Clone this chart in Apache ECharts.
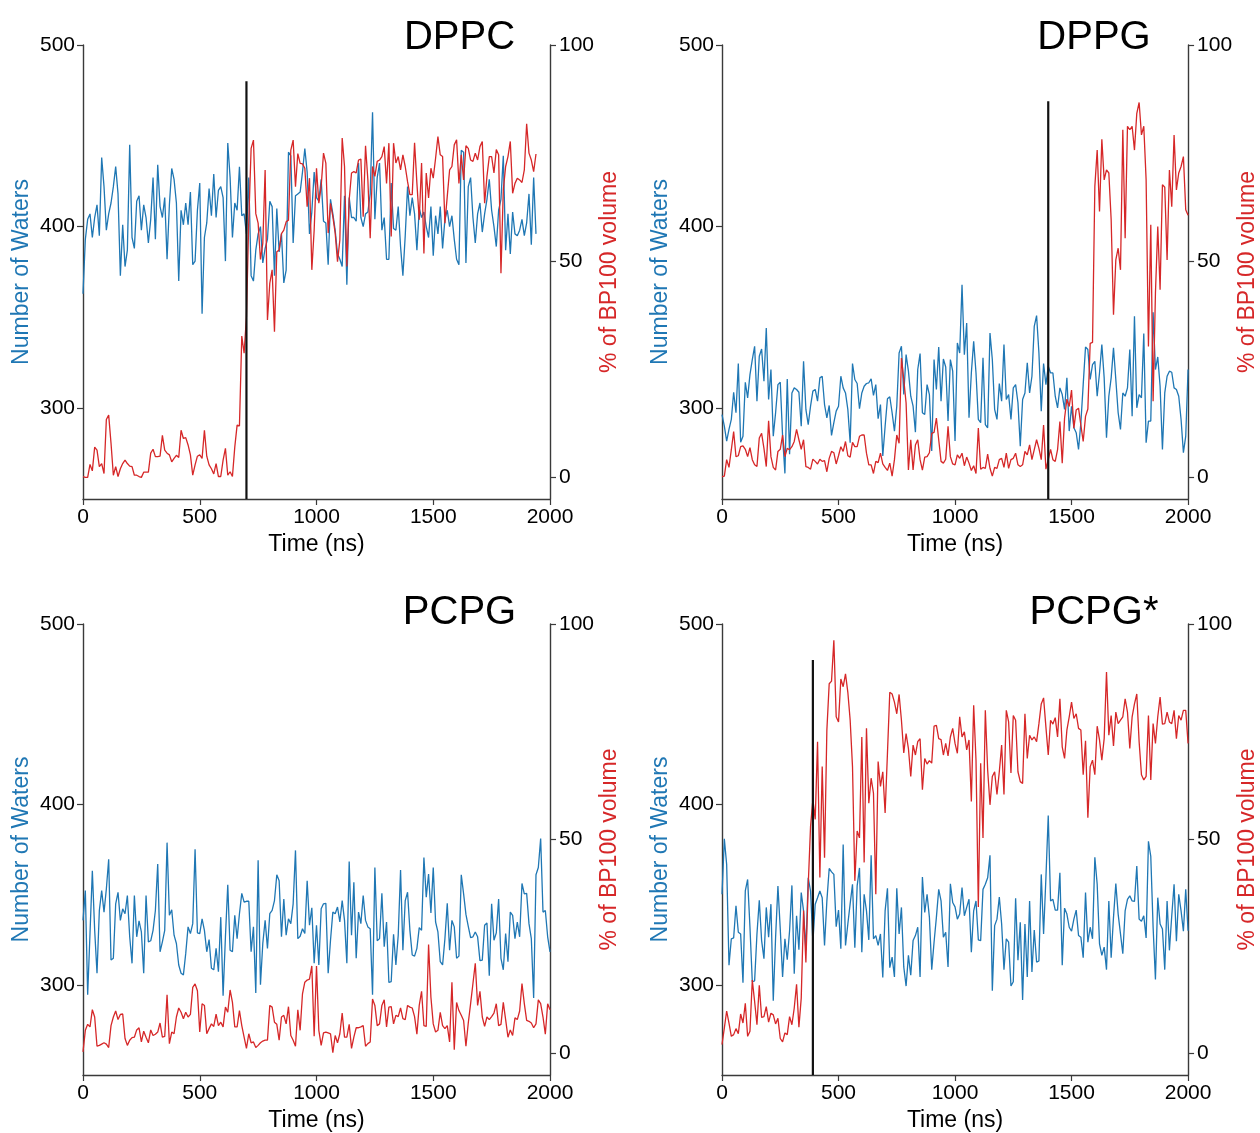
<!DOCTYPE html>
<html>
<head>
<meta charset="utf-8">
<title>Water count and BP100 volume</title>
<script src="https://cdn.jsdelivr.net/npm/echarts@6/dist/echarts.min.js"></script>
<style>
  html, body { margin: 0; padding: 0; background: #ffffff; }
  #chart { width: 1260px; height: 1133px; }
</style>
</head>
<body>
<div id="chart"></div>
<script>
// Sampling interval of every trace (ns)
const timeStepNs = 10;

const panelTitles = ['DPPC', 'DPPG', 'PCPG', 'PCPG*'];

// Number of water molecules (left axis)
const dppcWaters = [
  363,393,404,407,394,405,412,395,438,422,
  398,407,413,422,433,418,373,401,378,387,
  445,394,388,414,417,398,412,405,391,404,
  427,393,434,411,405,416,382,412,432,426,
  413,370,409,401,413,401,419,379,381,409,
  424,352,394,402,421,406,429,405,420,422,
  416,381,446,427,394,413,409,433,406,407,
  396,427,373,370,387,396,400,380,388,393,
  414,411,373,410,386,396,369,376,441,439,
  391,417,418,419,430,443,430,396,408,430,
  416,414,
  426,403,402,379,415,407,398,385,382,378,
  417,368,416,405,405,403,435,405,400,407,
  408,418,463,404,427,435,398,405,382,382,
  424,399,398,411,389,373,395,422,406,416,
  407,387,410,405,408,400,394,411,384,406,
  396,411,388,404,409,400,406,393,382,379,
  442,441,380,422,427,405,391,407,413,397,
  407,415,426,409,400,389,409,415,439,387,
  407,385,408,396,395,398,404,395,402,418,
  390,427,396
];
const dppgWaters = [
  296.5,290.1,281.9,288.3,293.8,308.8,297.5,324.6,281.3,284.6,
  314.3,305.7,318.5,326.8,334.1,303.9,328.6,332.6,314.9,344.2,
  304.8,321.3,284.6,297.5,313,314.3,284.6,264.1,316.1,274.6,
  308.4,311.2,310.3,308.8,290.1,325.8,299.3,291,301.1,309.4,
  310.3,303.9,316.7,317.6,302,294.7,301.5,285,292,298.4,
  301.1,317.6,311.2,308.4,299.3,281,324.6,315.8,313.6,299.7,
  308.4,312.1,313.6,314,316.1,307,313,294.2,302,273.7,
  290.1,305.2,306.3,297.5,287.4,301.1,330.4,334.1,307.5,329.5,
  320.4,306.6,301.1,286.8,321.3,330.1,297.5,296.5,313,307.5,
  276.4,326.8,310.3,333.7,303.9,327.1,322.7,292.9,326.8,320.4,
  281.9,335.9,
  330.4,368,329.5,346.9,294.7,319.4,336.8,319.4,293.8,292,
  327.7,291,289.2,341.4,326.8,299.3,293.8,313.6,303.9,335,
  304.8,307.5,293.8,311.2,313,303,279.1,304.8,308.4,325,
  308.4,317.6,345.1,351,330.4,298.4,324.6,313,323.1,319.4,
  319.4,306.6,300.2,311.2,307.5,299.3,316.7,287.4,301.1,289.2,
  286.5,277.3,292,313,333.7,332.3,315.8,324,325.8,306.6,
  319.4,335,316.7,283.7,306.6,316.7,333.2,315.8,297.5,288.3,
  308.4,306.6,311.2,332.3,295.6,350.6,300.2,307.5,305.7,341.1,
  281,292.9,292.9,352.8,321.3,328.2,312.1,277.3,308.4,317.6,
  320.4,319.8,311.2,310.3,306.6,293.8,275.5,284.6,321.3
];
const pcpgWaters = [
  335.7,352.2,294.5,328.4,363.2,330.2,306.4,341.2,352.2,340.3,
  353.1,369.6,313.7,314.7,344.9,351.3,335.7,342.1,339.4,349.5,
  326.6,311.9,349.5,326.6,335.4,329.3,306.4,349.5,323.8,324.4,
  330.2,341.2,366.9,318.3,323.8,330.2,378.8,338.5,341.6,327.5,
  322.9,311,306.4,305.5,317.4,332.1,328.4,333.9,375.1,328.8,
  328.4,336.6,330.2,318.3,325.1,309.2,308.3,320.2,307.3,337.5,
  294,326.6,355.5,319.2,318.3,338.5,325.6,339.4,350.7,345.8,
  346.3,346.3,318.3,332.1,295.4,369.1,300,322.9,335.7,320.2,
  339.4,341.2,346.7,361,357.7,326.6,347.6,327.5,336.6,333.9,
  344.9,374.5,325.6,326.9,331.1,328.4,357.7,333,342.7,311.9,
  333,311,
  342.1,344.9,345.2,306.4,324.7,340.3,339.4,343.1,334.8,346.7,
  335.7,311.9,368.3,327.5,356.8,314.7,340.3,333.9,349.5,335.7,
  332.1,331.1,294.5,365,324.4,325.6,350.7,321.1,334.8,301.3,
  301.8,328,311,327.5,363.6,319.2,346.7,351.3,330.2,316.5,
  315.9,320.2,331.7,330.2,370.5,348.6,361.4,339.8,365,334.8,
  329.3,312.8,311,325.6,345.2,319.2,335.7,332.1,314.7,315.9,
  361,350.4,339,332.4,326.2,326.6,329.3,326.6,313.4,313.7,
  333,334.3,305,344.9,324.7,328.8,347.6,314.7,308.3,328.4,
  312.8,340.3,338.5,325.6,334.8,326.6,356.2,350.4,350.7,333.9,
  325.6,292.7,361,365,381.1,340.3,341.2,326.6,318.3
];
const pcpgStarWaters = [
  350.2,380.9,366.7,310.8,325.5,326,343.8,329.1,328.2,301.1,
  352,358.4,331.9,301.7,302.2,328.2,346.9,324.5,314.5,342.9,
  326.4,344.7,291.2,326.4,354.8,330.9,304.4,325.5,313.9,330,
  355.1,306.2,338.3,319.4,351.1,341,319.1,359.3,352,323.6,
  344.7,348.3,352,348.3,321.8,346.5,364.5,362.6,361.2,332.2,
  341.4,320,377.7,321.8,333.7,345,355.7,320.5,354.8,364.8,
  318.1,350.2,341,324.9,371.8,325.5,327.3,321.8,328.2,304,
  341,353.5,309.5,315.4,304.4,353.5,328.2,342.9,309.9,299.3,
  316.3,305.3,324.5,327.3,331.9,304.4,359.7,340.1,350.2,337.4,
  308.4,323.6,337.4,352.9,346.5,326.4,329.1,309.9,356,345.6,
  343.2,336.4,
  339.2,353.9,338.3,342.9,347.4,318.1,341,346.5,324.9,324.5,
  352.9,355.7,359.3,371.8,296.7,332.8,336.4,348.7,333.7,308.4,
  325.5,323.6,299.3,301.7,348,313.6,334.6,291.6,333.7,304.4,
  346.5,307.1,330.4,312.6,313.2,361.2,328.2,359.3,393.8,346.5,
  347.4,341.4,341.4,362.1,310.8,342.5,339.2,331.9,329.7,336.4,
  341.4,327.3,326.4,315,351.1,323.6,331.9,325.5,370.7,355.7,
  322.7,316.3,320.9,308.4,346.5,315,337.4,356.1,339.2,328.2,
  317.2,341,347.4,349.3,346.5,346.2,365.8,336.4,335.2,338.3,
  326,379.5,371.2,331.9,302.9,348.3,333.7,330.9,308.4,346.5,
  319.1,338.3,355.7,324.2,350.2,341,329.7,352.9,330
];

// Share of the BP100 volume (%), right axis
const dppcVolume = [
  0.2,0,0,3,1.5,7,6.3,2.5,3.2,0.9,
  13.4,14.4,7.9,0.5,2.5,0.2,2,3.2,4,3.2,
  2.6,2.5,0.5,0.5,0.2,0,1.2,1.2,1.2,5.6,
  6.5,4.8,4.8,4.9,9.7,6.3,5.6,5.2,3.6,4.4,
  5.1,4.6,10.9,9,9.2,7.5,5.2,0.5,2.9,4.9,
  5.2,4.4,10.9,4.9,2.9,2,0.8,3.2,0.2,0.2,
  4,6.7,0.5,1.3,0.2,7,12.1,11.9,32.7,28.7,
  37.2,59.5,76.1,78,61,58.8,50.4,54.1,71.1,36.4,
  44.9,48,33.7,52.2,52.6,56.4,57.2,59.1,59.5,75.7,
  78,67.2,74.9,72.6,72.5,71.5,62.6,69.2,48,57.2,
  71.5,63.4,
  67.3,75,72.7,56.5,63.4,60.3,56.5,49.9,54.9,78.5,
  71.9,48.8,64.2,70.4,70.7,70.4,73.4,73.6,60.3,76.7,
  68.8,55.3,71.9,69.6,73.1,73.4,74.2,76.5,68,77.3,
  55.7,77.3,72.7,74.2,71.1,74.6,71.9,68.4,65.4,65.4,
  77.4,68,59.6,72.7,51.8,70.4,64.6,71.5,69.2,73.8,
  78.8,74.6,74.2,58.8,65,71.1,71.9,76.9,78.1,68,
  74.6,68.8,76.7,76.1,73.4,73.1,75,73.4,76.5,77.7,
  63.4,69.6,74.2,74.2,70.4,75.8,74.6,47.2,66.5,71.9,
  74.2,77.7,65.7,68,69.2,68.8,68.2,71.1,81.8,75,
  73.4,70.7,74.8
];
const dppgVolume = [
  0.2,0.3,4.1,2.3,6.4,10.6,4.8,5,7.1,7.3,
  6.5,4.8,6.9,4.1,2.9,2.5,9.1,10.2,6.7,2.5,
  13.1,4.8,2.3,1.7,6,6.5,9.8,4.8,6.7,6.4,
  7.1,8.3,11.1,8.7,6.5,8.7,2.5,2.3,1.9,4.2,
  3.7,3.1,4.2,3.7,3.9,1.3,4.4,6,5.7,3.1,
  5,7.1,6,8.3,5,4.7,8.1,7.1,7.1,9.5,
  9.8,9.8,5.6,2.9,2.9,0.9,3.7,3.4,5.6,3.1,
  2.3,1.6,3.3,0.3,4.1,9.8,7.9,27.6,22.6,17.2,
  1.7,8.7,1.7,7.5,8.7,4.1,1.7,4.7,4.8,5.7,
  10.2,10.4,13.7,8.7,3.7,3.3,4.2,11.8,4.8,3.1,
  2.9,5.2,
  4.4,5.6,2.7,4.7,3.3,1.6,2.7,0.9,11.4,1.9,
  2.3,2.1,5.4,2.1,0.3,2.3,2.1,4.1,4.4,2.3,
  5.6,2.1,4.1,4.4,5.6,2.9,2.5,2.9,6,5.2,
  7.5,4.1,6.4,8.7,6.7,4.1,12.1,1.9,4.1,6.5,
  4.1,3.7,6.4,12.9,3.3,13.7,18.1,16.4,20.2,11.4,
  15.6,16,12.1,8.3,14.1,15.8,31,31.2,67.3,75.7,
  61.5,78.2,68.8,71.1,70.4,59.6,37.6,50.3,53,48,
  80.4,55.3,81.2,80.4,81.2,75.7,84.2,86.7,79.2,81.2,
  68.8,30.3,58.4,17.6,42.6,58,43.4,67.7,67.1,50.3,
  71.1,62.6,79.2,66.5,70.4,71.9,74.2,61.9,60.6
];
const pcpgVolume = [
  0.4,5.4,6.8,6.2,10.2,8.5,1.7,1.9,2.2,2.5,
  2.2,1.4,6.5,8.5,9.9,7.9,9.1,9.2,3.5,1.9,
  3.1,3.7,3.8,5.5,6,2.7,5.2,3.8,2.5,5.5,
  4.2,4.5,5,7.1,3.8,4,13.7,2.3,5,4.6,
  8.5,10.6,9.6,8.1,9.6,8.5,9.1,15.4,16.2,14.6,
  5,11.6,11.2,4.6,5.8,6.9,6.3,9.2,6.5,7.3,
  6.2,10.8,9.6,14.8,11.9,6.2,6.2,10,6.5,3.8,
  1.2,4.6,2.5,2.7,1.4,1.9,2.5,2.9,3.1,3.1,
  11.2,10.8,7.3,6.8,3.1,8.5,8.9,6.9,10.9,4.2,
  3.1,1.7,10.2,5.4,13.9,16.6,17.1,17.3,20.4,4,
  20.4,5.4,
  1.9,4.8,5,4.8,4.6,0.2,4.2,2.5,4.6,9.4,
  3.8,3.8,6.8,1.2,3.8,6,6,6.2,6.5,1.7,
  2.3,2.7,12.7,11.2,6.5,6.9,11.2,12.5,6.2,10.8,
  10.9,6.9,8.9,8.6,10.6,8.1,7.9,11.2,10.8,10.6,
  8.6,4.5,11.2,14.5,6.5,6.3,25.4,13.1,6.9,5,
  5.4,9.6,6.5,5.8,6.5,2.7,16.6,0.9,11.9,10,
  8.9,7.7,1.7,7.1,11.6,16.3,21,11.2,14.5,8.5,
  6.3,8.5,7.9,8.6,9.4,11.6,6.5,6.8,11.9,7.9,
  3.8,5.5,4.2,8.3,7.9,9.9,16.3,11.6,7.7,7.5,
  7.1,6,6.9,12.5,11.6,8.5,4.5,11.6,10.2
];
const pcpgStarVolume = [
  2.1,5.9,9.9,7.1,4,4.4,5.8,4.6,9.2,7.1,
  11.7,4,5.2,17.1,12.1,6.7,15.9,8.4,8.6,10.9,
  7.3,9.4,9,6.9,8.2,3.5,2.7,4.8,4.4,8.6,
  6.7,10.6,16.1,6.1,12.9,33.3,21.2,39.1,52.9,59.1,
  54.5,72.6,41,66.8,45.6,75.3,86.1,86.7,96.2,78.4,
  77.2,87.2,85.4,88.4,84.1,77.6,66.8,40.2,51.8,50.2,
  73.7,44.5,75.7,58.3,64.1,60.6,37.1,68,62.2,65.6,
  56,69.9,84.1,83.7,81.8,79.1,83.6,77.6,70,74.5,
  71,64.5,71.8,69.5,72.6,73.3,61.4,68.7,67.4,68.2,
  67.6,76.2,76.4,73.3,73.1,69.5,72.2,69.3,73.7,75.7,
  72.2,69.9,
  78.4,73.7,74.9,70.7,73,58.7,81.1,68.3,34.1,67.6,
  50.2,79.9,66,57.9,64.5,65.6,60.3,65.6,71.8,60.3,
  79.9,77.2,65.3,78.7,77.6,65.6,63.3,62.9,79.1,68.7,
  74.1,73,73.7,72.6,76.8,81.4,82.8,76,69.5,77.6,
  76.7,78.2,73.7,82.6,71.4,68.7,75.3,78.4,81.8,78,
  79.1,75.7,75.3,64.9,72.8,54.9,66.8,68.3,64.9,76.2,
  73,68.3,73.3,88.8,74.1,78.7,71.6,79.5,76.8,77.6,
  78.4,82.6,79.5,71,78.4,81.4,83.7,72.6,64.9,63.7,
  64.5,78.7,63.7,76.8,72.2,78.4,83,76.7,76.8,79.5,
  77.2,76.8,79.9,73.3,78.7,77.6,79.9,79.9,72.2
];

// Event marker per panel: time (ns) and height on the water axis
const eventTimes = [700, 1400, null, 390];
const eventTops = [480, 469, null, 480];

// Axis ranges and tick values
const waterRange = [250, 500];
const waterTicks = [300, 400, 500];
const volumeRange = [-5, 100];
const volumeTicks = [0, 50, 100];
const timeRange = [0, 2000];
const timeTickStep = 500;

const watersByPanel = [dppcWaters, dppgWaters, pcpgWaters, pcpgStarWaters];
const volumeByPanel = [dppcVolume, dppgVolume, pcpgVolume, pcpgStarVolume];

const BLUE = '#1f77b4';
const RED = '#d62728';
const FONT = '"Liberation Sans", Arial, Helvetica, sans-serif';
const SPINE = '#3a3a3a';

// Plot boxes (px) and title placement: centre x and baseline offset from box top
const panelBoxes = [
  { left: 83, top: 45, titleDx: 376.5, titleBase: 5 },
  { left: 722, top: 45, titleDx: 372, titleBase: 5 },
  { left: 83, top: 624, titleDx: 376.5, titleBase: 1 },
  { left: 722, top: 624, titleDx: 372, titleBase: 1 }
];
const plotW = 467, plotH = 454;
const TITLE_SIZE = 40;

function withTime(values) {
  return values.map((v, i) => [i * timeStepNs, v]);
}
const plainNumber = (v) => String(v);

const grid = [], xAxis = [], yAxis = [], series = [], graphic = [];

panelBoxes.forEach((box, p) => {
  grid.push({ left: box.left, top: box.top, width: plotW, height: plotH, containLabel: false });

  xAxis.push({
    gridIndex: p, type: 'value', position: 'bottom',
    min: timeRange[0], max: timeRange[1], interval: timeTickStep,
    axisLine: { show: true, onZero: false, lineStyle: { color: SPINE, width: 1.4 } },
    axisTick: { show: true, inside: false, length: 6, lineStyle: { color: SPINE, width: 1.2 } },
    axisLabel: { color: '#000', fontSize: 21, fontFamily: FONT, margin: 8, formatter: plainNumber },
    splitLine: { show: false },
    name: 'Time (ns)', nameLocation: 'middle', nameGap: 34,
    nameTextStyle: { color: '#000', fontSize: 23, fontFamily: FONT }
  });

  yAxis.push({
    gridIndex: p, type: 'value', position: 'left', min: waterRange[0], max: waterRange[1],
    axisLine: { show: true, onZero: false, lineStyle: { color: SPINE, width: 1.4 } },
    axisTick: { show: true, inside: false, length: 6, customValues: waterTicks, lineStyle: { color: SPINE, width: 1.2 } },
    axisLabel: { color: '#000', fontSize: 21, fontFamily: FONT, margin: 8, customValues: waterTicks, formatter: plainNumber },
    splitLine: { show: false },
    name: 'Number of Waters', nameLocation: 'middle', nameGap: 50, nameRotate: 90,
    nameTextStyle: { color: BLUE, fontSize: 23, fontFamily: FONT }
  });

  yAxis.push({
    gridIndex: p, type: 'value', position: 'right', min: volumeRange[0], max: volumeRange[1],
    axisLine: { show: true, onZero: false, lineStyle: { color: SPINE, width: 1.4 } },
    axisTick: { show: true, inside: false, length: 6, customValues: volumeTicks, lineStyle: { color: SPINE, width: 1.2 } },
    axisLabel: { color: '#000', fontSize: 21, fontFamily: FONT, margin: 9, customValues: volumeTicks, formatter: plainNumber },
    splitLine: { show: false },
    name: '% of BP100 volume', nameLocation: 'middle', nameGap: 45, nameRotate: 90,
    nameTextStyle: { color: RED, fontSize: 23, fontFamily: FONT }
  });

  series.push({
    type: 'line', xAxisIndex: p, yAxisIndex: 2 * p, data: withTime(watersByPanel[p]),
    showSymbol: false, smooth: false, lineStyle: { color: BLUE, width: 1.3 }, z: 2
  });
  series.push({
    type: 'line', xAxisIndex: p, yAxisIndex: 2 * p + 1, data: withTime(volumeByPanel[p]),
    showSymbol: false, smooth: false, lineStyle: { color: RED, width: 1.3 }, z: 3
  });
  if (eventTimes[p] !== null) {
    series.push({
      type: 'line', xAxisIndex: p, yAxisIndex: 2 * p,
      data: [[eventTimes[p], waterRange[0]], [eventTimes[p], eventTops[p]]],
      showSymbol: false, lineStyle: { color: '#111', width: 2.2 }, z: 4
    });
  }

  // Baseline placement: bottom-aligned box sits one descent below the baseline
  graphic.push({
    type: 'text', x: box.left + box.titleDx, y: box.top + box.titleBase + Math.round(TITLE_SIZE * 0.21),
    style: { text: panelTitles[p], fill: '#000', fontSize: TITLE_SIZE, fontFamily: FONT,
             textAlign: 'center', textVerticalAlign: 'bottom' },
    z: 10
  });
});

const chart = echarts.init(document.getElementById('chart'), null, { renderer: 'canvas' });
chart.setOption({
  animation: false,
  backgroundColor: '#ffffff',
  grid, xAxis, yAxis, series, graphic
});
</script>
</body>
</html>
